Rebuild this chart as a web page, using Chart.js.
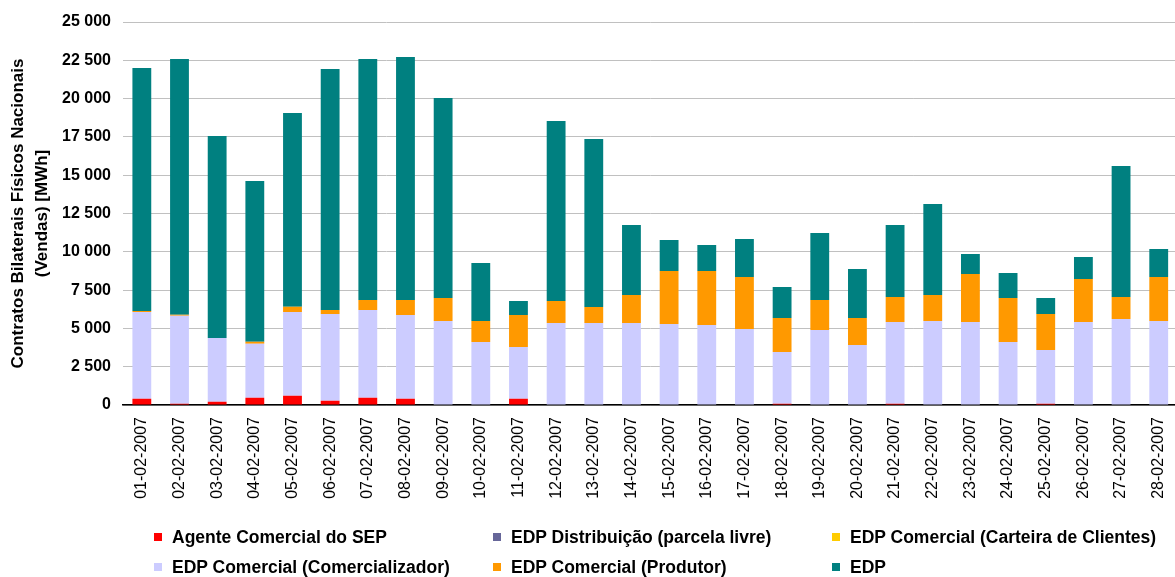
<!DOCTYPE html>
<html>
<head>
<meta charset="utf-8">
<script src="https://cdn.jsdelivr.net/npm/chart.js@4/dist/chart.umd.min.js"></script>
<style>
  body { margin: 0; background: #fff; overflow: hidden; }
  #caja { position: relative; width: 1190px; height: 577px; }
  #leyenda { position: absolute; left: 0; top: 0; font: bold 17.5px "Liberation Sans", Arial, sans-serif; color: #000; }
  .item { position: absolute; white-space: nowrap; line-height: 20px; }
  .item span.m { position: absolute; left: 0; top: 6px; width: 8px; height: 8px; }
  .item span.t { position: absolute; left: 18px; top: 0; }
</style>
</head>
<body>
<div id="caja">
  <canvas id="grafico" width="1190" height="577"></canvas>
  <div id="leyenda"></div>
</div>
<script>
// Datos (MWh)
const dias = ['01-02-2007', '02-02-2007', '03-02-2007', '04-02-2007', '05-02-2007', '06-02-2007', '07-02-2007',
  '08-02-2007', '09-02-2007', '10-02-2007', '11-02-2007', '12-02-2007', '13-02-2007', '14-02-2007',
  '15-02-2007', '16-02-2007', '17-02-2007', '18-02-2007', '19-02-2007', '20-02-2007', '21-02-2007',
  '22-02-2007', '23-02-2007', '24-02-2007', '25-02-2007', '26-02-2007', '27-02-2007', '28-02-2007'];

const agenteSEP = [410, 85, 215, 480, 610, 280, 480, 410, 0, 0, 410, 0, 0, 0, 0, 0, 0, 85, 0, 0, 85, 0, 0, 0, 85, 0, 0, 0];
const edpDistribuicao = [0, 0, 0, 0, 0, 0, 0, 0, 0, 0, 0, 0, 0, 0, 0, 0, 0, 0, 0, 0, 0, 0, 0, 0, 0, 0, 0, 0];
const carteiraClientes = [0, 0, 0, 0, 0, 0, 0, 0, 0, 0, 0, 0, 0, 0, 0, 0, 0, 0, 0, 0, 0, 0, 0, 0, 0, 0, 0, 0];
const comercializador = [5660, 5745, 4160, 3520, 5460, 5660, 5720, 5465, 5485, 4110, 3375, 5350, 5350, 5350,
  5290, 5220, 4960, 3375, 4895, 3915, 5335, 5485, 5420, 4110, 3505, 5420, 5615, 5485];
const produtor = [70, 65, 0, 130, 350, 260, 655, 980, 1500, 1370, 2090, 1440, 1045, 1830,
  3460, 3525, 3395, 2220, 1960, 1765, 1630, 1695, 3130, 2875, 2350, 2805, 1435, 2870];
const edp = [15865, 16690, 13185, 10485, 12640, 15730, 15730, 15860, 13055, 3785, 915, 11750, 10970, 4570,
  2020, 1700, 2480, 2020, 4370, 3195, 4700, 5940, 1305, 1630, 1045, 1435, 8550, 1830];

const series = ['Agente Comercial do SEP', 'EDP Distribuição (parcela livre)', 'EDP Comercial (Carteira de Clientes)',
  'EDP Comercial (Comercializador)', 'EDP Comercial (Produtor)', 'EDP'];
const colores = ['#FF0000', '#666699', '#FFCC00', '#CCCCFF', '#FF9900', '#008080'];
const valores = [agenteSEP, edpDistribuicao, carteiraClientes, comercializador, produtor, edp];

const yTicks = [0, 2500, 5000, 7500, 10000, 12500, 15000, 17500, 20000, 22500, 25000];

function formato(v) {
    return String(v).replace(/\B(?=(\d{3})+(?!\d))/g, ' ');
}

function crearGrafico() {
    const ctx = document.getElementById('grafico').getContext('2d');
    Chart.defaults.font.family = '"Liberation Sans", Arial, sans-serif';
    Chart.defaults.color = '#000';

    new Chart(ctx, {
        type: 'bar',
        data: {
            labels: dias,
            datasets: series.map((nombre, i) => ({
                label: nombre,
                data: valores[i],
                backgroundColor: colores[i],
                borderWidth: 0,
                barPercentage: 0.5,
                categoryPercentage: 1.0
            }))
        },
        options: {
            responsive: false,
            animation: false,
            layout: { padding: { top: 22, right: 4, left: 0, bottom: 0 } },
            plugins: { legend: { display: false }, tooltip: { enabled: false } },
            scales: {
                x: {
                    stacked: true,
                    grid: { display: false, drawTicks: false },
                    border: { color: '#000', width: 1.5 },
                    ticks: { minRotation: 90, maxRotation: 90, padding: 12, font: { size: 16 } },
                    afterFit: (s) => { s.height = 172; }
                },
                y: {
                    stacked: true,
                    min: 0,
                    max: 25000,
                    afterBuildTicks: (s) => { s.ticks = yTicks.map(v => ({ value: v })); },
                    grid: { color: '#c0c0c0', lineWidth: 1, drawTicks: false },
                    border: { display: false },
                    ticks: { padding: 12, font: { size: 16, weight: 'bold' }, callback: (v) => formato(v) },
                    title: {
                        display: true,
                        text: ['Contratos Bilaterais Físicos Nacionais', '(Vendas) [MWh]'],
                        font: { size: 17, weight: 'bold', lineHeight: 1.4 },
                        padding: { top: 6.5, bottom: 0 }
                    },
                    afterFit: (s) => { s.width = 123; }
                }
            }
        }
    });
}

// Leyenda en dos filas y tres columnas
function crearLeyenda() {
    const cont = document.getElementById('leyenda');
    const colX = [154, 493, 832];
    const filaY = [527, 557];
    series.forEach((nombre, i) => {
        const d = document.createElement('div');
        d.className = 'item';
        d.style.left = colX[i % 3] + 'px';
        d.style.top = filaY[Math.floor(i / 3)] + 'px';
        d.innerHTML = '<span class="m" style="background:' + colores[i] + '"></span><span class="t">' + nombre + '</span>';
        cont.appendChild(d);
    });
}

crearGrafico();
crearLeyenda();
</script>
</body>
</html>
